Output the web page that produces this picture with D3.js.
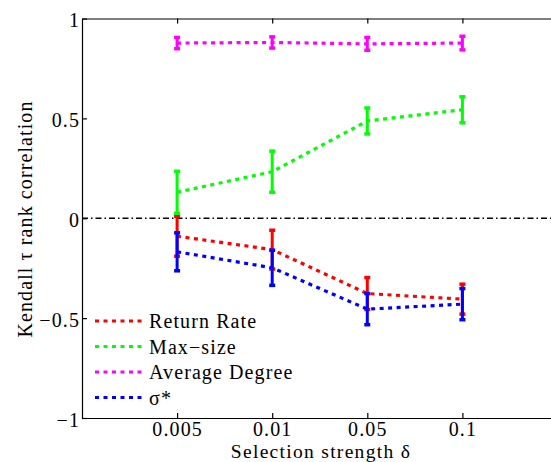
<!DOCTYPE html>
<html>
<head>
<meta charset="utf-8">
<script src="https://cdn.jsdelivr.net/npm/d3@7"></script>
<style>
  html, body { margin: 0; padding: 0; background: #fff; }
  svg { display: block; }
</style>
</head>
<body>
<script>
// ---- data ----
const categories = ["0.005", "0.01", "0.05", "0.1"];
const yTicks = [-1, -0.5, 0, 0.5, 1];

const returnRate    = [-0.090, -0.157, -0.377, -0.405];
const returnRateErr = [0.100, 0.097, 0.080, 0.075];

const maxSize       = [0.130, 0.233, 0.487, 0.543];
const maxSizeErr    = [0.105, 0.103, 0.065, 0.065];

const avgDegree     = [0.877, 0.880, 0.873, 0.877];
const avgDegreeErr  = [0.028, 0.028, 0.032, 0.034];

const sigmaStar     = [-0.168, -0.248, -0.455, -0.430];
const sigmaStarErr  = [0.095, 0.088, 0.078, 0.078];

const seriesNames  = ["Return Rate", "Max\u2212size", "Average Degree", "\u03C3*"];
const seriesColors = ["#ff0000", "#00ff00", "#ff00ff", "#0000ff"];

const series = [
  { name: seriesNames[0], color: seriesColors[0], values: returnRate, err: returnRateErr },
  { name: seriesNames[1], color: seriesColors[1], values: maxSize,    err: maxSizeErr },
  { name: seriesNames[2], color: seriesColors[2], values: avgDegree,  err: avgDegreeErr },
  { name: seriesNames[3], color: seriesColors[3], values: sigmaStar,  err: sigmaStarErr }
];

// ---- layout ----
const W = 551, H = 462;
const mLeft = 82, mTop = 18.5, mBottom = 418, mRight = 557.5;
const serif = "'Liberation Serif', 'Times New Roman', serif";
const fs = "20px", ls = "1.1px";

const svg = d3.select("body").append("svg").attr("width", W).attr("height", H)
  .style("font-family", serif);

const x = d3.scaleLinear().domain([0, 5]).range([mLeft, mRight]);
const y = d3.scaleLinear().domain([-1, 1]).range([mBottom, mTop]);

// zero reference line
svg.append("line")
  .attr("x1", mLeft).attr("x2", mRight)
  .attr("y1", y(0)).attr("y2", y(0))
  .attr("stroke", "#000").attr("stroke-width", 1.3)
  .attr("stroke-dasharray", "6,3,1.5,3");

// series
const line = d3.line().x((d, i) => x(i + 1)).y(d => y(d));
series.forEach(s => {
  const g = svg.append("g");
  g.append("path")
    .attr("d", line(s.values))
    .attr("fill", "none")
    .attr("stroke", s.color)
    .attr("stroke-width", 3.2)
    .attr("stroke-dasharray", "4,4.5");
  s.values.forEach((v, i) => {
    const cx = x(i + 1);
    const y1 = y(v + s.err[i]), y2 = y(v - s.err[i]);
    g.append("line").attr("x1", cx).attr("x2", cx).attr("y1", y1).attr("y2", y2)
      .attr("stroke", s.color).attr("stroke-width", 3);
    [y1, y2].forEach(yy => {
      g.append("line").attr("x1", cx - 3).attr("x2", cx + 3).attr("y1", yy).attr("y2", yy)
        .attr("stroke", s.color).attr("stroke-width", 3.5);
    });
  });
});

// axes
const xAxis = d3.axisBottom(x).tickValues([1, 2, 3, 4])
  .tickFormat(d => categories[d - 1]).tickSizeInner(-5).tickSizeOuter(0).tickPadding(4);
const gx = svg.append("g").attr("transform", `translate(0,${mBottom})`).call(xAxis);

const xTop = d3.axisTop(x).tickValues([1, 2, 3, 4]).tickFormat("").tickSizeInner(-5).tickSizeOuter(0);
const gxt = svg.append("g").attr("transform", `translate(0,${mTop})`).call(xTop);

const yAxis = d3.axisLeft(y).tickValues(yTicks).tickFormat(d3.format("~g"))
  .tickSizeInner(-5).tickSizeOuter(0).tickPadding(2);
const gy = svg.append("g").attr("transform", `translate(${mLeft},0)`).call(yAxis);

const yRight = d3.axisRight(y).tickValues(yTicks).tickFormat("").tickSizeInner(-5).tickSizeOuter(0);
const gyr = svg.append("g").attr("transform", `translate(${mRight},0)`).call(yRight);

[gx, gxt, gy, gyr].forEach(g => {
  g.attr("font-family", null).attr("font-size", null);
  g.select(".domain").attr("stroke", "#000").attr("stroke-width", 1.2);
  g.selectAll(".tick line").attr("stroke", "#000").attr("stroke-width", 1.2);
  g.selectAll("text").style("font-family", serif).style("font-size", fs)
    .style("letter-spacing", ls).attr("fill", "#000");
});
gy.selectAll(".tick text").attr("dy", "0.4em");

// axis titles
svg.append("text")
  .attr("x", 321).attr("y", 457.6)
  .attr("text-anchor", "middle").style("font-size", "19.5px").style("letter-spacing", "1.3px")
  .text("Selection strength \u03B4");

svg.append("text")
  .attr("transform", `translate(32,${219}) rotate(-90)`)
  .attr("text-anchor", "middle").style("font-size", fs).style("letter-spacing", ls)
  .text("Kendall \u03C4 rank correlation");

// legend
const legend = svg.append("g");
series.forEach((s, i) => {
  const ly = 321 + i * 25.5;
  legend.append("line")
    .attr("x1", 95).attr("x2", 143).attr("y1", ly).attr("y2", ly)
    .attr("stroke", s.color).attr("stroke-width", 3.2)
    .attr("stroke-dasharray", "4,4.5");
  legend.append("text")
    .attr("x", 149).attr("y", ly).attr("dy", "0.35em")
    .style("font-size", fs).style("letter-spacing", ls)
    .text(s.name);
});
</script>
</body>
</html>
